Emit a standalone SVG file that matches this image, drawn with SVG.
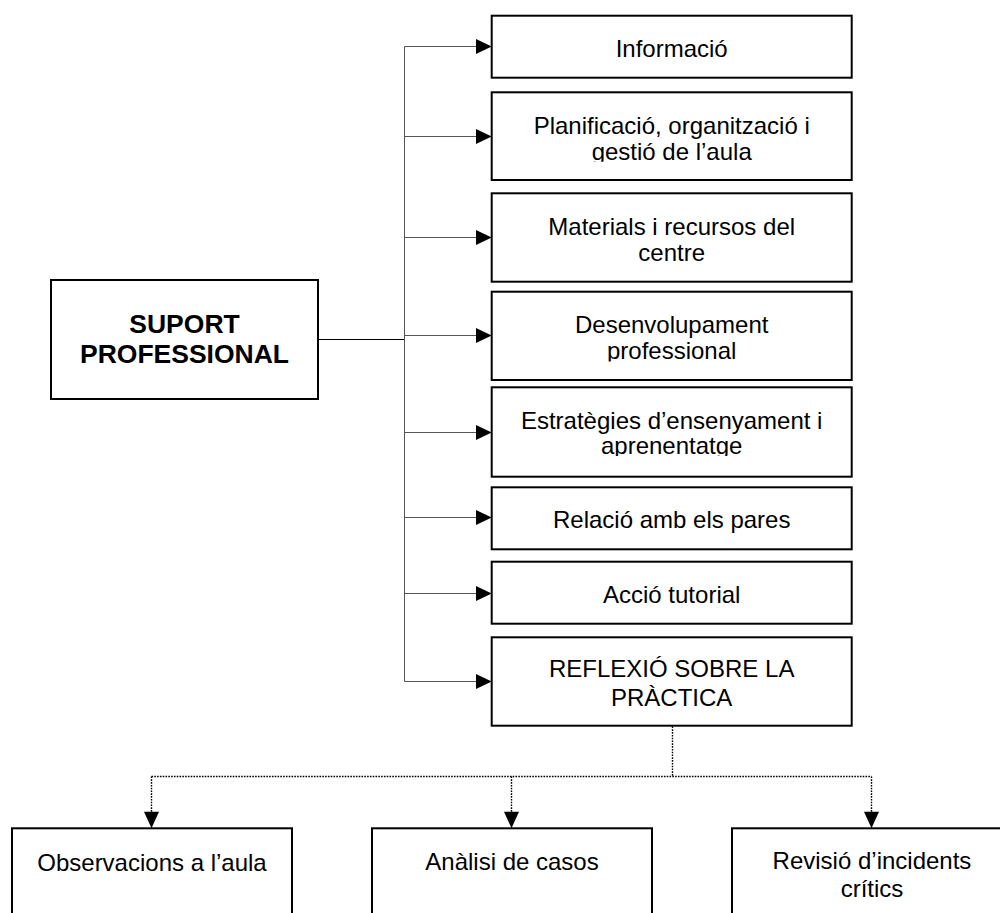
<svg xmlns="http://www.w3.org/2000/svg" width="1000" height="913" viewBox="0 0 1000 913">
  <style>
    .box { fill: #fff; stroke: #000; stroke-width: 2; }
    .lbl { font-family: "Liberation Sans", Arial, sans-serif; font-size: 24px; fill: #000; text-anchor: middle; }
    .bold { font-weight: bold; font-size: 26.5px; }
    .branch { fill: none; stroke: #555; stroke-width: 1; }
    .trunk { fill: none; stroke: #000; stroke-width: 1; }
    .dot { fill: none; stroke: #000; stroke-width: 1.4; stroke-dasharray: 1.6 1.2; }
    .head { fill: #000; }
  </style>
  <defs>
    <!-- lower lines of some labels are cut just under the baseline -->
    <clipPath id="clipPlan"><rect x="492" y="92" width="360" height="69.7"/></clipPath>
    <clipPath id="clipDes"><rect x="492" y="292" width="360" height="69.5"/></clipPath>
    <clipPath id="clipEst"><rect x="492" y="387" width="360" height="69"/></clipPath>
  </defs>

  <!-- connectors -->
  <g id="connectors">
    <line class="trunk" x1="318" y1="339.5" x2="404.5" y2="339.5"/>
    <line class="branch" x1="404.5" y1="46.5" x2="404.5" y2="681.5"/>
    <path class="branch" d="M404.5 46.5H477 M404.5 136.5H477 M404.5 237.5H477 M404.5 335.5H477 M404.5 432.5H477 M404.5 517.5H477 M404.5 593.5H477 M404.5 681.5H477"/>
    <polygon class="head" points="476,39 491.7,46.5 476,54"/>
    <polygon class="head" points="476,129 491.7,136.5 476,144"/>
    <polygon class="head" points="476,230 491.7,237.5 476,245"/>
    <polygon class="head" points="476,328 491.7,335.5 476,343"/>
    <polygon class="head" points="476,425 491.7,432.5 476,440"/>
    <polygon class="head" points="476,510 491.7,517.5 476,525"/>
    <polygon class="head" points="476,586 491.7,593.5 476,601"/>
    <polygon class="head" points="476,674 491.7,681.5 476,689"/>

    <line class="dot" x1="672.5" y1="726.5" x2="672.5" y2="776.5"/>
    <line class="dot" x1="151.5" y1="776.5" x2="871.5" y2="776.5"/>
    <line class="dot" x1="151.5" y1="776.5" x2="151.5" y2="812"/>
    <line class="dot" x1="511.5" y1="776.5" x2="511.5" y2="812"/>
    <line class="dot" x1="871.5" y1="776.5" x2="871.5" y2="812"/>
    <polygon class="head" points="144,811.7 159,811.7 151.5,828.3"/>
    <polygon class="head" points="504,811.7 519,811.7 511.5,828.3"/>
    <polygon class="head" points="864,811.7 879,811.7 871.5,828.3"/>
  </g>

  <!-- root -->
  <g id="suport">
    <rect class="box" x="51" y="280" width="267" height="119"/>
    <text class="lbl bold" x="184.5" y="332.7">SUPORT</text>
    <text class="lbl bold" x="184.5" y="362.7">PROFESSIONAL</text>
  </g>

  <!-- support areas -->
  <g id="informacio">
    <rect class="box" x="491.7" y="15.7" width="360" height="62"/>
    <text class="lbl" x="671.7" y="57.3">Informació</text>
  </g>
  <g id="planificacio">
    <rect class="box" x="491.7" y="92.3" width="360" height="87.7"/>
    <g clip-path="url(#clipPlan)">
      <text class="lbl" x="671.7" y="134">Planificació, organització i</text>
      <text class="lbl" x="671.7" y="160">gestió de l’aula</text>
    </g>
  </g>
  <g id="materials">
    <rect class="box" x="491.7" y="193.3" width="360" height="88.4"/>
    <text class="lbl" x="671.7" y="235">Materials i recursos del</text>
    <text class="lbl" x="671.7" y="261">centre</text>
  </g>
  <g id="desenvolupament">
    <rect class="box" x="491.7" y="291.7" width="360" height="88.3"/>
    <g clip-path="url(#clipDes)">
      <text class="lbl" x="671.7" y="333.3">Desenvolupament</text>
      <text class="lbl" x="671.7" y="359.4">professional</text>
    </g>
  </g>
  <g id="estrategies">
    <rect class="box" x="491.7" y="387.3" width="360" height="89.4"/>
    <g clip-path="url(#clipEst)">
      <text class="lbl" x="671.7" y="429.3">Estratègies d’ensenyament i</text>
      <text class="lbl" x="671.7" y="454">aprenentatge</text>
    </g>
  </g>
  <g id="pares">
    <rect class="box" x="491.7" y="487.3" width="360" height="62"/>
    <text class="lbl" x="671.7" y="527.7">Relació amb els pares</text>
  </g>
  <g id="tutorial">
    <rect class="box" x="491.7" y="561.7" width="360" height="62"/>
    <text class="lbl" x="671.7" y="603.3">Acció tutorial</text>
  </g>
  <g id="reflexio">
    <rect class="box" x="491.7" y="637.3" width="360" height="88.4"/>
    <text class="lbl" x="671.7" y="677">REFLEXIÓ SOBRE LA</text>
    <text class="lbl" x="671.7" y="706">PRÀCTICA</text>
  </g>

  <!-- reflection practices -->
  <g id="observacions">
    <rect class="box" x="12" y="828.3" width="280" height="110"/>
    <text class="lbl" x="152" y="870.7">Observacions a l’aula</text>
  </g>
  <g id="casos">
    <rect class="box" x="372" y="828.3" width="280" height="110"/>
    <text class="lbl" x="512" y="870">Anàlisi de casos</text>
  </g>
  <g id="incidents">
    <rect class="box" x="732" y="828.3" width="280" height="110"/>
    <text class="lbl" x="872" y="869.3">Revisió d’incidents</text>
    <text class="lbl" x="872" y="896.7">crítics</text>
  </g>
</svg>
